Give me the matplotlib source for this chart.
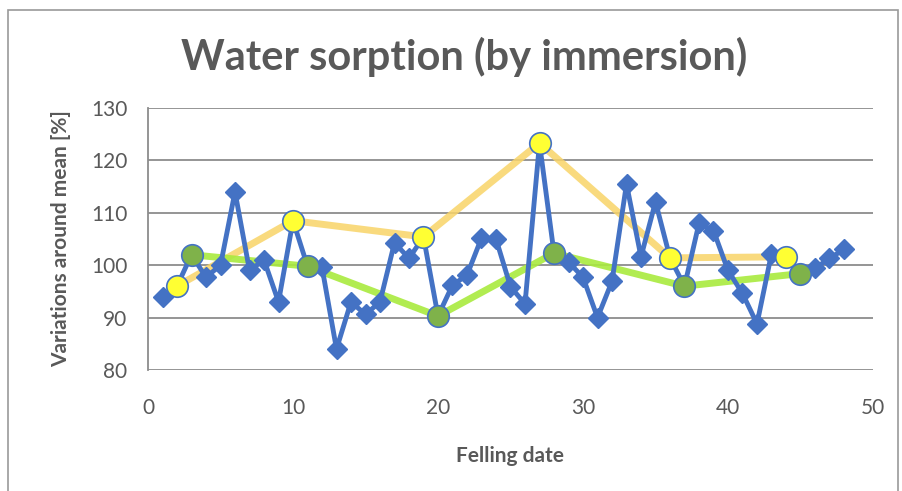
import matplotlib.pyplot as plt
from matplotlib.patches import Rectangle

# felling dates 1..48 and the measured values
dates = list(range(1, 49))
values = [94.0, 96.0, 102.0, 97.7, 100.0, 114.0, 99.0, 101.0, 93.0, 108.5,
          99.8, 99.6, 84.0, 93.0, 90.6, 93.0, 104.3, 101.3, 105.4, 90.3,
          96.2, 98.1, 105.2, 105.0, 95.9, 92.6, 123.3, 102.3, 100.6, 97.7,
          90.0, 96.9, 115.5, 101.6, 112.1, 101.4, 96.0, 108.0, 106.6, 99.0,
          94.6, 88.8, 102.2, 101.6, 98.4, 99.4, 101.3, 103.0]

# highlighted points
high_dates = [2, 10, 19, 27, 36, 44]
high_values = [96.0, 108.5, 105.4, 123.3, 101.4, 101.6]
low_dates = [3, 11, 20, 28, 37, 45]
low_values = [102.0, 99.8, 90.3, 102.3, 96.0, 98.4]

gray = '#595959'
plt.rcParams['font.family'] = ['Lato', 'DejaVu Sans']

fig = plt.figure(figsize=(9.03, 4.91), dpi=100)
fig.patches.append(Rectangle((8 / 903, -0.01), 0.995 - 8 / 903, 1 - 10 / 491 + 0.01,
                             transform=fig.transFigure, fill=False,
                             edgecolor='#9a9a9a', linewidth=1.2))

ax = fig.add_axes([148 / 903, 1 - 370 / 491, (873 - 148) / 903, (370 - 108) / 491])

ax.plot(high_dates, high_values, color='#f8d468', lw=5, alpha=0.85, zorder=2)
ax.plot(low_dates, low_values, color='#a9ea3e', lw=5, alpha=0.9, zorder=2)
ax.plot(dates, values, color='#4472c4', lw=3.5, marker='D', markersize=10,
        markeredgecolor='#4472c4', zorder=3)
ax.scatter(high_dates, high_values, s=240, color='#ffff33', edgecolor='#4472c4',
           linewidth=1.2, zorder=4)
ax.scatter(low_dates, low_values, s=240, color='#7fb24a', edgecolor='#4472c4',
           linewidth=1.2, zorder=4)

ax.set_xlim(0, 50)
ax.set_ylim(80, 130)
ax.set_xticks(range(0, 51, 10))
ax.set_yticks(range(80, 131, 10))
ax.grid(axis='y', color='#8c8c8c', lw=1.3)
ax.set_axisbelow(True)
for s in ['top', 'right', 'bottom']:
    ax.spines[s].set_visible(False)
ax.spines['left'].set_color('#8c8c8c')
ax.spines['left'].set_linewidth(1.3)
ax.tick_params(length=0, labelsize=15, labelcolor=gray)
ax.tick_params(axis='x', pad=20)
ax.tick_params(axis='y', pad=15)

ax.set_xlabel('Felling date', fontsize=15, fontweight='bold', color=gray, labelpad=20)
ax.set_ylabel('Variations around mean [%]', fontsize=15, fontweight='bold', color=gray, labelpad=14)
fig.text(0.514, 0.884, 'Water sorption (by immersion)', ha='center', va='center',
         fontsize=30, fontweight='bold', color=gray)

fig.savefig('out.png', dpi=100)
